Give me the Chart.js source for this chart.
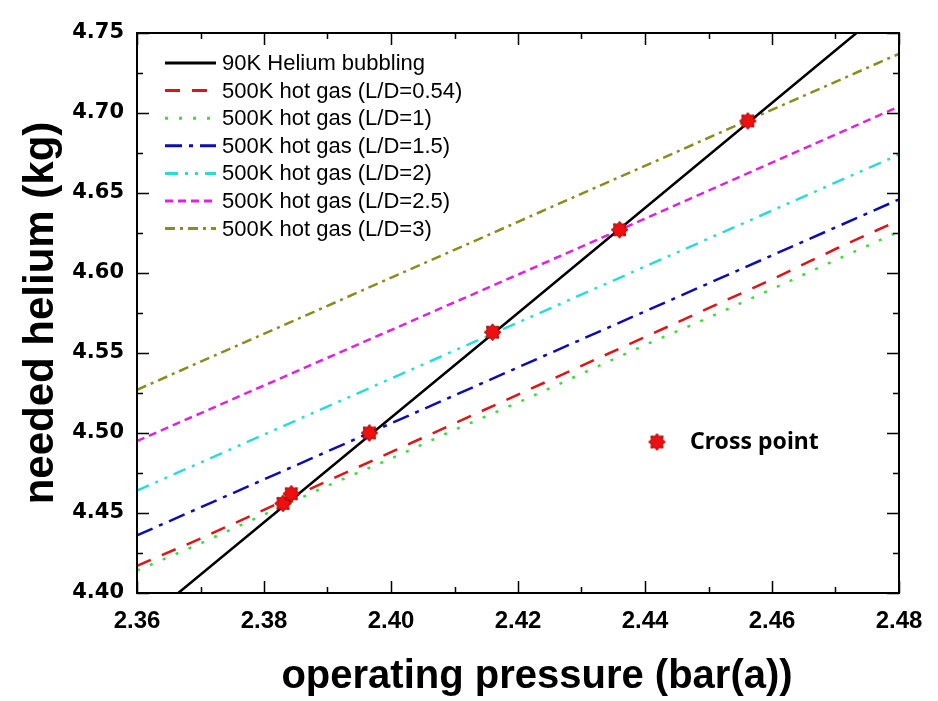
<!DOCTYPE html>
<html>
<head>
<meta charset="utf-8">
<script src="https://cdn.jsdelivr.net/npm/chart.js@4.4.1/dist/chart.umd.min.js"></script>
<style>
html, body { margin: 0; padding: 0; background: #fff; }
#wrap { width: 938px; height: 701px; }
</style>
</head>
<body>
<div id="wrap"><canvas id="myChart"></canvas></div>
<script>
// operating pressure (bar(a)) vs needed helium (kg)
const xTicks = [2.36, 2.38, 2.40, 2.42, 2.44, 2.46, 2.48];
const yTicks = [4.40, 4.45, 4.50, 4.55, 4.60, 4.65, 4.70, 4.75];

const bubblingX = [2.3665, 2.42, 2.4733];
const bubblingY = [4.400, 4.575, 4.750];

const fineX = [2.36, 2.37, 2.38, 2.39, 2.40, 2.41, 2.42, 2.43, 2.44, 2.45, 2.46, 2.47, 2.48];
const ld054Y = [4.417, 4.434, 4.452, 4.470, 4.488, 4.506, 4.524, 4.542, 4.560, 4.578, 4.596, 4.615, 4.633];
const ld1Y = [4.414, 4.431, 4.449, 4.467, 4.484, 4.502, 4.519, 4.537, 4.555, 4.572, 4.590, 4.608, 4.626];

const coarseX = [2.36, 2.42, 2.48];
const ld15Y = [4.436, 4.541, 4.646];
const ld2Y = [4.464, 4.569, 4.674];
const ld25Y = [4.495, 4.599, 4.704];
const ld3Y = [4.527, 4.632, 4.737];

const crossX = [2.3830, 2.3843, 2.3966, 2.4160, 2.4360, 2.4562];
const crossY = [4.456, 4.462, 4.500, 4.563, 4.627, 4.695];

function pts(xs, ys) {
    return xs.map((x, i) => ({ x: x, y: ys[i] }));
}

function makeStar(r) {
    const c = document.createElement('canvas');
    const s = Math.ceil(r * 2 + 4);
    c.width = s; c.height = s;
    const g = c.getContext('2d');
    const m = s / 2;
    g.beginPath();
    for (let i = 0; i < 16; i++) {
        const a = i * Math.PI / 8 - Math.PI / 2;
        const rr = i % 2 ? r * 0.7 : r;
        g.lineTo(m + rr * Math.cos(a), m + rr * Math.sin(a));
    }
    g.closePath();
    g.fillStyle = '#ee1010';
    g.fill();
    g.strokeStyle = '#a00000';
    g.lineWidth = 1;
    g.stroke();
    return c;
}
const star = makeStar(8.5);

function line(label, xs, ys, color, dash) {
    return {
        label: label,
        data: pts(xs, ys),
        borderColor: color,
        borderWidth: 2.5,
        borderDash: dash,
        pointRadius: 0,
        tension: 0,
        fill: false
    };
}

const datasets = [
    line('90K Helium bubbling', bubblingX, bubblingY, '#000000', []),
    line('500K hot gas (L/D=0.54)', fineX, ld054Y, '#e01414', [15, 12]),
    line('500K hot gas (L/D=1)', fineX, ld1Y, '#3cdc3c', [3, 11]),
    line('500K hot gas (L/D=1.5)', coarseX, ld15Y, '#0c0cb4', [17, 7, 4, 7]),
    line('500K hot gas (L/D=2)', coarseX, ld2Y, '#28dcdc', [13, 7, 3, 7, 3, 7]),
    line('500K hot gas (L/D=2.5)', coarseX, ld25Y, '#e022e0', [8, 5]),
    line('500K hot gas (L/D=3)', coarseX, ld3Y, '#8c8c1e', [10, 5, 3, 5]),
    {
        label: 'Cross point',
        data: pts(crossX, crossY),
        showLine: false,
        pointStyle: star,
        pointRadius: 8,
        order: -1,
        cross: true
    }
];

// frame + inward major/minor ticks on all four sides
const frameTicks = {
    id: 'frameTicks',
    afterDraw(chart) {
        const { ctx, chartArea: a, scales: { x, y } } = chart;
        ctx.save();
        ctx.strokeStyle = '#000';
        ctx.lineWidth = 1.5;
        ctx.beginPath();
        for (let i = 0; i < xTicks.length; i++) {
            const vals = [[xTicks[i], 12]];
            if (i < xTicks.length - 1) vals.push([(xTicks[i] + xTicks[i + 1]) / 2, 6]);
            vals.forEach(([v, len]) => {
                const px = Math.round(x.getPixelForValue(v)) + 0.5;
                ctx.moveTo(px, a.bottom); ctx.lineTo(px, a.bottom - len);
                ctx.moveTo(px, a.top); ctx.lineTo(px, a.top + len);
            });
        }
        for (let i = 0; i < yTicks.length; i++) {
            const vals = [[yTicks[i], 12]];
            if (i < yTicks.length - 1) vals.push([(yTicks[i] + yTicks[i + 1]) / 2, 6]);
            vals.forEach(([v, len]) => {
                const py = Math.round(y.getPixelForValue(v)) + 0.5;
                ctx.moveTo(a.left, py); ctx.lineTo(a.left + len, py);
                ctx.moveTo(a.right, py); ctx.lineTo(a.right - len, py);
            });
        }
        ctx.stroke();
        ctx.lineWidth = 2;
        ctx.strokeRect(a.left, a.top, a.right - a.left, a.bottom - a.top);

        // x axis title, a bit right of centre as in the original
        ctx.fillStyle = '#000';
        ctx.font = 'bold 40px "Liberation Sans", Arial, sans-serif';
        ctx.textAlign = 'center';
        ctx.textBaseline = 'middle';
        ctx.fillText('operating pressure (bar(a))', (a.left + a.right) / 2 + 19, a.bottom + 84);
        ctx.restore();
    }
};

// legend drawn inside the plot, with the real dash patterns
const innerLegend = {
    id: 'innerLegend',
    afterDatasetsDraw(chart) {
        const { ctx, chartArea: a } = chart;
        ctx.save();
        ctx.font = '22px "Liberation Sans", Arial, sans-serif';
        ctx.textBaseline = 'middle';
        ctx.fillStyle = '#000';
        let row = 0;
        chart.data.datasets.forEach(ds => {
            if (ds.cross) return;
            const yy = a.top + 30 + row * 27.6;
            ctx.beginPath();
            ctx.strokeStyle = ds.borderColor;
            ctx.lineWidth = 3;
            ctx.setLineDash(ds.borderDash);
            ctx.moveTo(a.left + 28, yy);
            ctx.lineTo(a.left + 79, yy);
            ctx.stroke();
            ctx.setLineDash([]);
            ctx.fillText(ds.label, a.left + 85, yy + 1);
            row++;
        });
        // cross point entry
        const cx = a.left + 520, cy = a.top + 409;
        ctx.drawImage(star, cx - star.width / 2, cy - star.height / 2);
        ctx.font = 'bold 23px "Noto Sans", Arial, sans-serif';
        ctx.fillText('Cross point', cx + 33, cy);
        ctx.restore();
    }
};

const config = {
    type: 'line',
    data: { datasets: datasets },
    options: {
        responsive: true,
        maintainAspectRatio: false,
        animation: false,
        layout: { padding: { left: 0, right: 39, top: 33, bottom: 0 } },
        plugins: { legend: { display: false }, tooltip: { enabled: false } },
        scales: {
            x: {
                type: 'linear',
                min: 2.36,
                max: 2.48,
                afterBuildTicks: s => { s.ticks = xTicks.map(v => ({ value: v })); },
                afterFit: s => { s.height = 108; },
                grid: { display: false },
                border: { display: false },
                ticks: {
                    padding: 6,
                    color: '#000',
                    maxRotation: 0,
                    font: { family: '"Liberation Sans", Arial, sans-serif', weight: 'bold', size: 24 },
                    callback: v => v.toFixed(2)
                },
                title: { display: false }
            },
            y: {
                type: 'linear',
                min: 4.40,
                max: 4.75,
                afterBuildTicks: s => { s.ticks = yTicks.map(v => ({ value: v })); },
                afterFit: s => { s.width = 137; },
                grid: { display: false },
                border: { display: false },
                ticks: {
                    padding: 5,
                    color: '#000',
                    font: { family: '"DejaVu Sans", sans-serif', weight: 'bold', size: 21 },
                    callback: v => v.toFixed(2)
                },
                title: {
                    display: true,
                    text: 'needed helium (kg)',
                    color: '#000',
                    padding: { top: 16, bottom: 0 },
                    font: { family: '"Liberation Sans", Arial, sans-serif', weight: 'bold', size: 42 }
                }
            }
        }
    },
    plugins: [frameTicks, innerLegend]
};

const myChart = new Chart(document.getElementById('myChart'), config);
</script>
</body>
</html>
